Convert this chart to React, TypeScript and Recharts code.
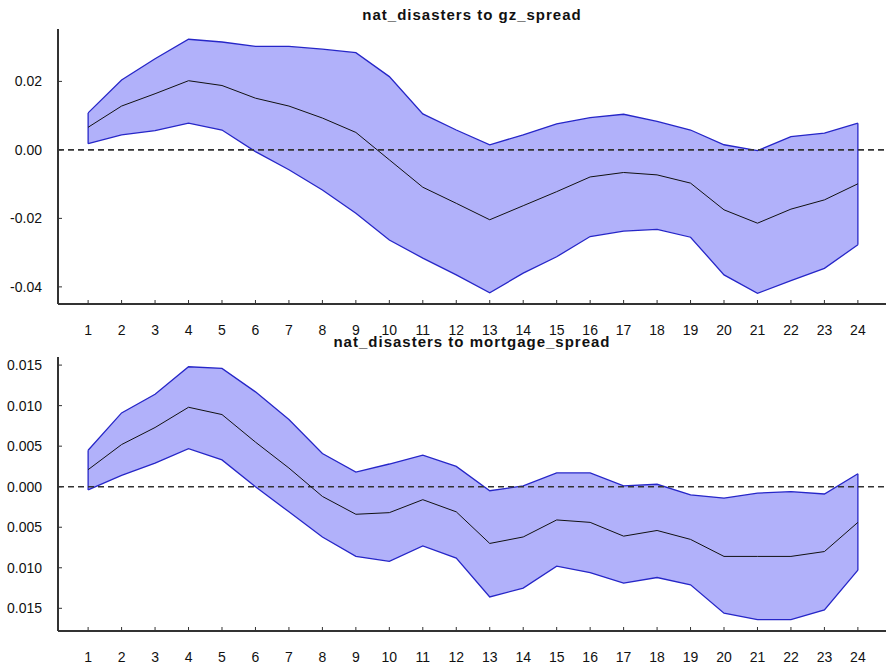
import { ComposedChart, Area, Line, XAxis, YAxis, ReferenceLine } from 'recharts'

const HORIZONS = [1, 2, 3, 4, 5, 6, 7, 8, 9, 10, 11, 12, 13, 14, 15, 16, 17, 18, 19, 20, 21, 22, 23, 24]

// nat_disasters -> gz_spread
const gzUpper = [0.0108, 0.0204, 0.0266, 0.0323, 0.0315, 0.0302, 0.0302, 0.0294, 0.0284, 0.0214, 0.0105, 0.0058, 0.0015, 0.0044, 0.0076, 0.0094, 0.0104, 0.0083, 0.0058, 0.0015, -0.0002, 0.0039, 0.0049, 0.0078]
const gzMid = [0.0066, 0.0128, 0.0164, 0.0202, 0.0188, 0.0151, 0.0128, 0.0093, 0.0051, -0.0029, -0.0109, -0.0156, -0.0204, -0.0163, -0.0122, -0.0079, -0.0066, -0.0073, -0.0097, -0.0175, -0.0214, -0.0173, -0.0146, -0.0099]
const gzLower = [0.0018, 0.0044, 0.0056, 0.0078, 0.0058, -0.0005, -0.0058, -0.0117, -0.0185, -0.0263, -0.0316, -0.0365, -0.0417, -0.036, -0.0312, -0.0253, -0.0237, -0.0232, -0.0255, -0.0365, -0.0419, -0.0382, -0.0346, -0.0277]
const gzTicks = [0.02, 0, -0.02, -0.04]

// nat_disasters -> mortgage_spread
const mortUpper = [0.0045, 0.0091, 0.0114, 0.0148, 0.0146, 0.0117, 0.0083, 0.0041, 0.0018, 0.0028, 0.0039, 0.0025, -0.0005, 0.0001, 0.0017, 0.0017, 0.0001, 0.0003, -0.001, -0.0014, -0.0008, -0.0006, -0.0009, 0.0016]
const mortMid = [0.0021, 0.0052, 0.0073, 0.0098, 0.0089, 0.0055, 0.0023, -0.0012, -0.0034, -0.0032, -0.0016, -0.0031, -0.007, -0.0062, -0.0041, -0.0044, -0.0061, -0.0054, -0.0065, -0.0086, -0.0086, -0.0086, -0.008, -0.0044]
const mortLower = [-0.0004, 0.0014, 0.0029, 0.0047, 0.0033, 0, -0.0031, -0.0062, -0.0086, -0.0092, -0.0073, -0.0088, -0.0136, -0.0125, -0.0098, -0.0106, -0.0119, -0.0112, -0.0121, -0.0156, -0.0164, -0.0164, -0.0152, -0.0103]
const mortTicks = [0.015, 0.01, 0.005, 0, -0.005, -0.01, -0.015]

const FONT = '"Liberation Sans", Arial, sans-serif'
const FILL = '#b1b1fa'
const EDGE = '#2626c8'
const AXIS = '#333'

type PanelProps = {
  upper: number[]
  mid: number[]
  lower: number[]
  yDomain: [number, number]
  yTicks: number[]
  fmt: (v: number) => string
  height: number
  top: number
  axisHeight: number
}

function IrfPanel({ upper, mid, lower, yDomain, yTicks, fmt, height, top, axisHeight }: PanelProps) {
  const rows = HORIZONS.map((h, i) => ({ h, band: [lower[i], upper[i]], mid: mid[i] }))
  const last = HORIZONS.length - 1
  const tickStyle = { fill: '#111', fontSize: 14, fontFamily: FONT }
  return (
    <ComposedChart width={886} height={height} data={rows} margin={{ top, right: 0, left: 0, bottom: 0 }}>
      <XAxis
        dataKey="h"
        type="number"
        domain={[0.1, 24.84]}
        ticks={HORIZONS}
        interval={0}
        height={axisHeight}
        tick={tickStyle}
        tickSize={-4}
        tickMargin={25}
        tickLine={{ stroke: AXIS }}
        axisLine={{ stroke: AXIS, strokeWidth: 2 }}
      />
      <YAxis
        type="number"
        domain={yDomain}
        ticks={yTicks}
        interval={0}
        width={58}
        tick={tickStyle}
        tickFormatter={fmt}
        tickSize={-4}
        tickMargin={20}
        tickLine={{ stroke: AXIS }}
        axisLine={{ stroke: AXIS, strokeWidth: 2 }}
        allowDataOverflow
      />
      <Area
        dataKey="band"
        type="linear"
        fill={FILL}
        fillOpacity={1}
        stroke={EDGE}
        strokeWidth={1.3}
        isAnimationActive={false}
      />
      <ReferenceLine
        segment={[{ x: HORIZONS[0], y: lower[0] }, { x: HORIZONS[0], y: upper[0] }]}
        stroke={EDGE}
        strokeWidth={1.3}
      />
      <ReferenceLine
        segment={[{ x: HORIZONS[last], y: lower[last] }, { x: HORIZONS[last], y: upper[last] }]}
        stroke={EDGE}
        strokeWidth={1.3}
      />
      <ReferenceLine y={0} stroke={AXIS} strokeWidth={1.6} strokeDasharray="6 4" />
      <Line dataKey="mid" type="linear" stroke="#111" strokeWidth={1} dot={false} isAnimationActive={false} />
    </ComposedChart>
  )
}

const titleStyle = {
  position: 'absolute' as const,
  left: 58,
  width: 828,
  textAlign: 'center' as const,
  fontFamily: FONT,
  fontWeight: 700,
  fontSize: 15,
  letterSpacing: 1,
  lineHeight: '16px',
  color: '#111',
}

export default function App() {
  return (
    <div style={{ position: 'absolute', left: 0, top: 0, width: 886, height: 665, background: '#fff', overflow: 'hidden' }}>
      <div style={{ position: 'absolute', left: 0, top: 0 }}>
        <IrfPanel
          upper={gzUpper}
          mid={gzMid}
          lower={gzLower}
          yDomain={[-0.045, 0.0353]}
          yTicks={gzTicks}
          fmt={(v) => v.toFixed(2)}
          height={345}
          top={29}
          axisHeight={41}
        />
      </div>
      <div style={{ position: 'absolute', left: 0, top: 335 }}>
        <IrfPanel
          upper={mortUpper}
          mid={mortMid}
          lower={mortLower}
          yDomain={[-0.0178, 0.016]}
          yTicks={mortTicks}
          fmt={(v) => Math.abs(v).toFixed(3)}
          height={330}
          top={22}
          axisHeight={34}
        />
      </div>
      <div style={{ ...titleStyle, top: 7 }}>nat_disasters to gz_spread</div>
      <div style={{ ...titleStyle, top: 334 }}>nat_disasters to mortgage_spread</div>
    </div>
  )
}
